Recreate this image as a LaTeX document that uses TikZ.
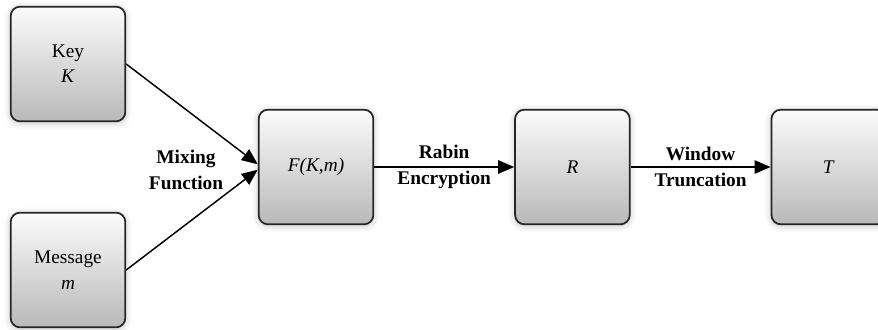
\documentclass[tikz,border=0pt]{standalone}
\usepackage{fontspec}
\setmainfont{Liberation Serif}
\usetikzlibrary{positioning, arrows.meta, shadows.blur}

\tikzset{
  block/.style={draw=black!85, line width=1.3pt, rounded corners=7pt,
    minimum width=86pt, minimum height=86pt, align=center,
    top color=gray!3, bottom color=gray!55,
    font=\fontsize{14.5}{19}\selectfont,
    blur shadow={shadow xshift=0pt, shadow yshift=-1pt, shadow blur radius=5pt, shadow opacity=25}},
  flow/.style={-{Triangle[length=12pt,width=10pt]}, line width=1.1pt},
  tag/.style={font=\fontsize{14.5}{19}\selectfont\bfseries, align=center}
}

\begin{document}
\begin{tikzpicture}[x=0.75pt, y=-0.75pt]
\useasboundingbox (0,0) rectangle (878,329);

\node[block] (key) at (68,64) {Key\\\textit{K}};
\node[block] (msg) at (68,270) {Message\\\textit{m}};
\node[block] (fkm) at (316,167) {\textit{F(K,m)}};
\node[block, right=105pt of fkm] (r) {\textit{R}};
\node[block, right=105pt of r] (t) {\textit{T}};

% inputs to the mixing step
\node[tag] (mixing) at (186,170) {Mixing\\Function};
\draw[flow] (key.east) -- ([yshift=2pt]fkm.west);
\draw[flow] (msg.east) -- ([yshift=-2pt]fkm.west);

\draw[flow] (fkm) -- node[tag] (rabin) {Rabin\\Encryption} (r);
\draw[flow] (r) -- node[tag] (window) {Window\\Truncation} (t);
\end{tikzpicture}
\end{document}
